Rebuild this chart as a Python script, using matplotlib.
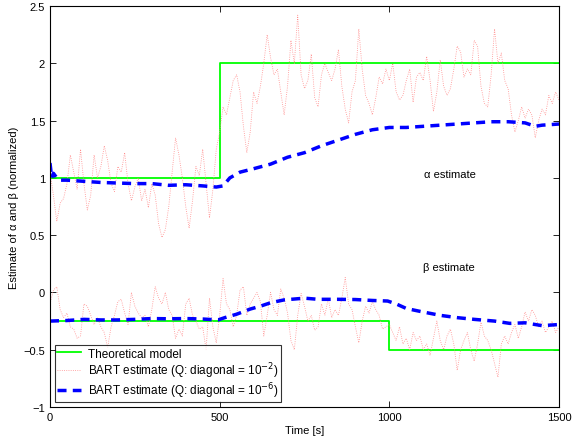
import numpy as np
import matplotlib
matplotlib.use("Agg")
import matplotlib.pyplot as plt

plt.rcParams["font.family"] = ["Liberation Sans", "DejaVu Sans"]
plt.rcParams["font.size"] = 8

# ===============================
# DATA
# ===============================
t_noisy = np.arange(0, 1501, 10)

alpha_noisy = [
    1.05, 0.85, 0.62, 0.78, 0.82, 0.95, 1.2, 1.05, 0.9, 1.25,
    0.95, 0.72, 0.85, 1.2, 1.0, 1.1, 1.28, 1.15, 0.95, 0.88,
    1.1, 1.05, 1.22, 0.95, 0.8, 0.92, 1.0, 0.8, 0.9, 0.74,
    0.95, 0.85, 0.6, 0.48, 0.55, 0.75, 1.05, 1.35, 1.2, 1.0,
    0.75, 0.56, 0.8, 1.1, 1.02, 1.25, 0.95, 0.65, 0.9, 1.25,
    1.4,
    1.62, 1.55, 1.7, 1.85, 1.9, 1.75, 1.45, 1.22, 1.4, 1.75,
    1.65, 1.8, 2.0, 2.25, 2.05, 1.9, 1.95, 1.75, 1.55, 1.8,
    2.2, 2.0, 2.42, 1.9, 1.78, 1.85, 2.08, 1.7, 1.62, 1.9,
    2.0, 1.92, 1.85, 1.95, 2.12, 1.8, 1.6, 1.48, 1.75, 1.85,
    2.3, 1.95, 1.72, 1.65, 1.55, 1.7, 1.88, 1.82, 1.95, 1.85,
    2.0, 1.75, 1.68, 1.72, 1.85, 1.95, 1.66, 1.88, 1.92, 1.85,
    2.06, 1.85, 1.58, 1.75, 2.03, 1.8, 1.72, 1.78, 1.95, 2.15,
    2.1, 1.88, 1.95, 1.9, 2.2, 2.15, 1.8, 1.65, 1.62, 1.9,
    2.3, 2.0, 2.09, 1.85, 1.78, 1.55, 1.4, 1.5, 1.62, 1.52,
    1.6, 1.55, 1.35, 1.5, 1.6, 1.55, 1.72, 1.65, 1.75, 1.68,
]

beta_noisy = [
    -0.1, 0.02, 0.05, -0.15, -0.22, -0.18, -0.3, -0.32, -0.4, -0.38,
    -0.1, -0.12, -0.2, -0.28, -0.22, -0.3, -0.35, -0.48, -0.3, -0.2,
    -0.08, -0.06, -0.18, -0.28, 0.0, -0.12, -0.18, -0.22, -0.2, -0.3,
    -0.15, 0.05, -0.05, -0.1, 0.0, -0.15, -0.2, -0.4, -0.32, -0.38,
    -0.1, -0.05, -0.2, -0.25, -0.32, -0.3, -0.5, -0.05, -0.3, -0.44,
    -0.2,
    0.12, -0.1, -0.15, -0.3, -0.2, 0.02, 0.05, -0.2, -0.1, -0.05,
    0.0, -0.08, -0.38, -0.2, 0.0, -0.15, -0.2, 0.03, -0.05, -0.18,
    -0.42, -0.5, -0.2, -0.01, -0.12, -0.25, -0.2, -0.33, -0.3, -0.1,
    -0.2, -0.05, -0.22, -0.15, -0.2, -0.05, 0.13, -0.1, -0.15, -0.3,
    -0.44, -0.25, -0.12, -0.18, -0.08, -0.15, -0.2, -0.32, -0.3, -0.28,
    -0.35, -0.42, -0.3, -0.45, -0.4, -0.5, -0.35, -0.42, -0.38, -0.5,
    -0.45, -0.55, -0.4, -0.25, -0.42, -0.5, -0.38, -0.32, -0.45, -0.68,
    -0.5, -0.42, -0.35, -0.5, -0.6, -0.45, -0.26, -0.38, -0.42, -0.5,
    -0.62, -0.74, -0.45, -0.38, -0.45, -0.35, -0.28, -0.4, -0.3, -0.17,
    -0.25, -0.15, -0.2, -0.3, -0.25, -0.35, -0.3, -0.25, -0.35, -0.3,
]

t_alpha_smooth = [0, 5, 10, 20, 30, 50, 100, 150, 200, 250, 300, 350, 400,
                  450, 490, 510, 530, 560, 600, 650, 700, 750, 800, 850,
                  900, 950, 1000, 1050, 1100, 1150, 1200, 1250, 1300, 1350,
                  1400, 1430, 1450, 1500]
alpha_smooth = [1.13, 1.0, 1.04, 1.0, 0.98, 0.98, 0.97, 0.96, 0.955, 0.95,
                0.95, 0.935, 0.94, 0.93, 0.92, 0.93, 1.0, 1.05, 1.08, 1.12,
                1.18, 1.22, 1.28, 1.33, 1.38, 1.42, 1.44, 1.44, 1.45, 1.46,
                1.47, 1.48, 1.49, 1.49, 1.48, 1.45, 1.46, 1.47]

t_beta_smooth = [0, 50, 100, 150, 200, 250, 300, 350, 400, 450, 495, 515,
                 550, 590, 620, 650, 690, 750, 790, 850, 900, 950, 995, 1020,
                 1050, 1090, 1150, 1200, 1250, 1310, 1355, 1400, 1450, 1500]
beta_smooth = [-0.25, -0.245, -0.235, -0.24, -0.24, -0.235, -0.228, -0.23,
               -0.228, -0.232, -0.24, -0.22, -0.19, -0.145, -0.12, -0.09,
               -0.065, -0.05, -0.06, -0.06, -0.062, -0.07, -0.075, -0.1,
               -0.14, -0.165, -0.2, -0.22, -0.235, -0.25, -0.27, -0.265,
               -0.29, -0.28]

t_model = [0, 500, 500, 1500]
alpha_model = [1.0, 1.0, 2.0, 2.0]
t_model_b = [0, 1000, 1000, 1500]
beta_model = [-0.25, -0.25, -0.5, -0.5]

# ===============================
# PLOT
# ===============================
fig = plt.figure(figsize=(5.72, 4.39), dpi=100)
ax = fig.add_axes([0.0874, 0.0706, 0.8899, 0.9134])

green = "#00ff00"
pink = "#ff8c8c"
blue = "#0000ff"
dash = (0, (2.6, 1.8))

ax.plot(t_model, alpha_model, color=green, lw=1.3, label="Theoretical model")
ax.plot(t_noisy, alpha_noisy, color=pink, lw=0.6, ls=":",
        label="BART estimate (Q: diagonal = 10$^{-2}$)")
ax.plot(t_alpha_smooth, alpha_smooth, color=blue, lw=2.5, ls=dash,
        label="BART estimate (Q: diagonal = 10$^{-6}$)")
ax.plot(t_model_b, beta_model, color=green, lw=1.3)
ax.plot(t_noisy, beta_noisy, color=pink, lw=0.6, ls=":")
ax.plot(t_beta_smooth, beta_smooth, color=blue, lw=2.5, ls=dash)

ax.text(1180, 1.03, "\u03b1 estimate", ha="center", va="center", fontsize=8)
ax.text(1176, 0.22, "\u03b2 estimate", ha="center", va="center", fontsize=8)

ax.set_xlim(0, 1500)
ax.set_ylim(-1, 2.5)
ax.set_xticks([0, 500, 1000, 1500])
ax.set_yticks(np.arange(-1, 2.51, 0.5))
ax.set_yticklabels(["\u22121", "\u22120.5", "0", "0.5", "1", "1.5", "2", "2.5"])
ax.tick_params(direction="in", top=True, right=True, length=4, width=0.6,
               labelsize=8)
for s in ax.spines.values():
    s.set_linewidth(0.8)

ax.set_xlabel("Time [s]", fontsize=8, labelpad=2)
ax.set_ylabel("Estimate of \u03b1 and \u03b2 (normalized)", fontsize=8,
              labelpad=3)

leg = ax.legend(loc="lower left", fontsize=8.5, frameon=True, fancybox=False,
                edgecolor="black", borderaxespad=0.4, handlelength=2.0,
                labelspacing=0.05, borderpad=0.2, handletextpad=0.6)
leg.get_frame().set_linewidth(0.8)

fig.savefig("out.png", dpi=100)
